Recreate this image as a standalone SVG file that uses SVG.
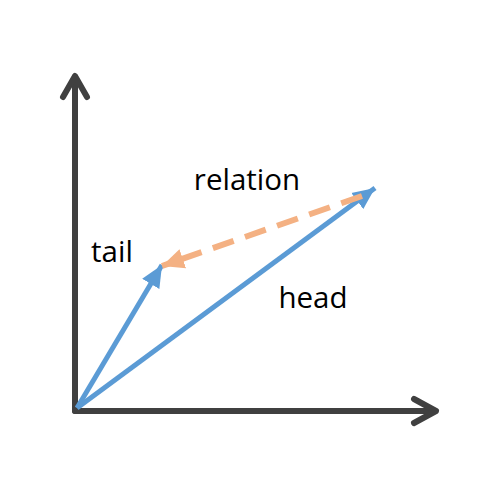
<svg xmlns="http://www.w3.org/2000/svg" width="500" height="500" viewBox="0 0 500 500">
<style>
.axis{stroke:#404040;stroke-width:6;fill:none;stroke-linecap:round;stroke-linejoin:round}
.vec{stroke:#5B9BD5;stroke-width:5;fill:none}
.rel{stroke:#F4B183;stroke-width:6;fill:none;stroke-dasharray:22 12}
.lbl{font-family:"Open Sans","Liberation Sans",sans-serif;font-size:29.5px;fill:#000}
</style>
<defs>
<marker id="blueHead" markerUnits="userSpaceOnUse" markerWidth="24" markerHeight="22" viewBox="0 0 24 22" refX="22" refY="11" orient="auto">
<path d="M0,1 L22,11 L0,21 Z" fill="#5B9BD5"/>
</marker>
<marker id="orangeHead" markerUnits="userSpaceOnUse" markerWidth="24" markerHeight="22" viewBox="0 0 24 22" refX="22" refY="11" orient="auto">
<path d="M0,1 L22,11 L0,21 Z" fill="#F4B183"/>
</marker>
</defs>
<g id="axes">
<line class="axis" x1="75" y1="411" x2="75" y2="77"/>
<polyline class="axis" points="63,97 75,76 87,97"/>
<line class="axis" x1="75" y1="411" x2="435" y2="411"/>
<polyline class="axis" points="414,399 436,411 414,423"/>
</g>
<g id="connectors">
<line class="vec" x1="77" y1="408" x2="162" y2="265" marker-end="url(#blueHead)"/>
<line class="vec" x1="77" y1="408" x2="375" y2="188" marker-end="url(#blueHead)"/>
<line class="rel" x1="362" y1="196" x2="162" y2="266" marker-end="url(#orangeHead)"/>
</g>
<g id="labels">
<text class="lbl" x="247" y="190" text-anchor="middle">relation</text>
<text class="lbl" x="112" y="262" text-anchor="middle">tail</text>
<text class="lbl" x="313" y="308" text-anchor="middle">head</text>
</g>
</svg>
